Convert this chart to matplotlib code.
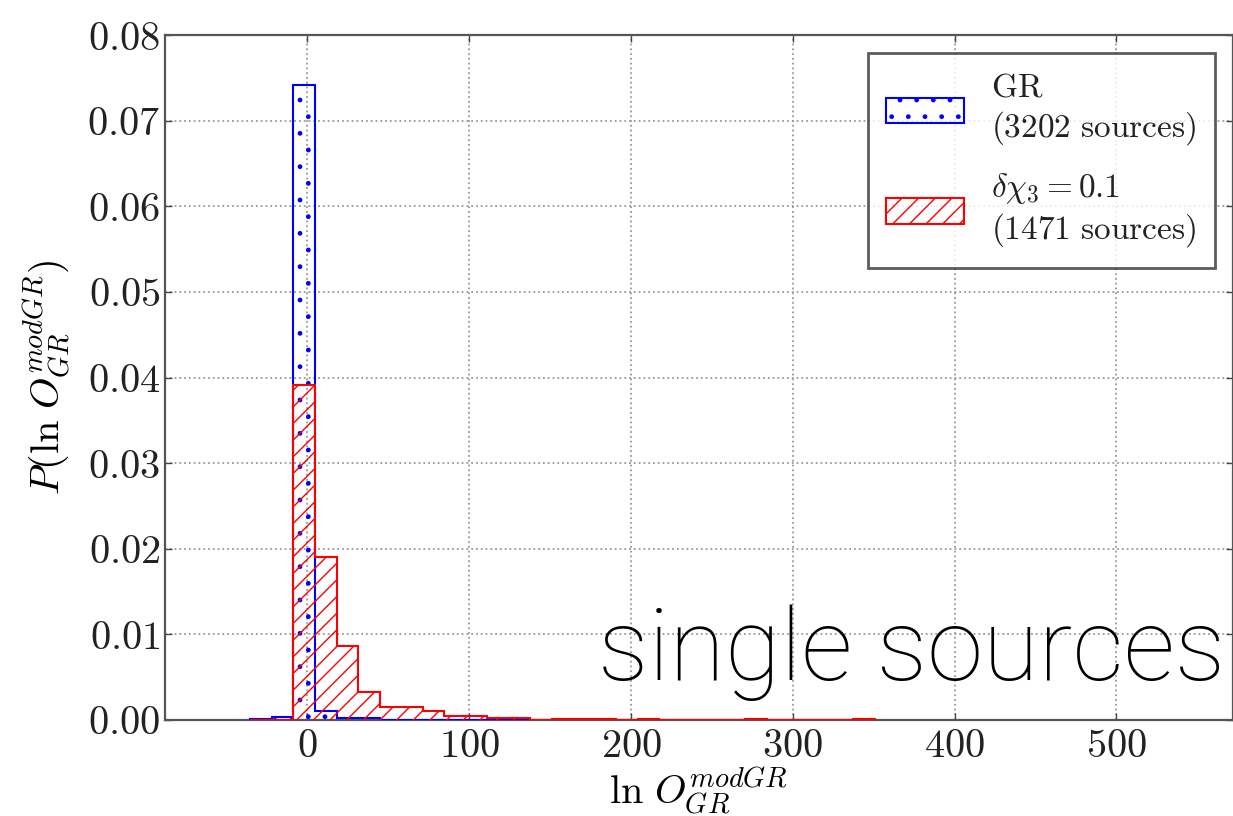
import numpy as np
import matplotlib
matplotlib.use('Agg')
import matplotlib.pyplot as plt
from matplotlib.ticker import FuncFormatter

plt.rcParams['mathtext.fontset'] = 'cm'
plt.rcParams['font.family'] = 'DejaVu Serif'
plt.rcParams['hatch.linewidth'] = 1.0

# bin edges of ln O (shared by both histograms)
bin_edges = [-35.2, -21.9, -8.6, 4.7, 18.0, 31.3, 44.6, 57.9, 71.2, 84.5,
             97.8, 111.1, 124.4, 137.7, 151.0, 164.3, 177.6, 190.9, 204.2,
             217.5, 230.8, 244.1, 257.4, 270.7, 284.0, 297.3, 310.6, 323.9,
             337.2, 350.5]

# normalised histogram heights, one per bin
gr_density = [0.0001, 0.0003, 0.0742, 0.0010, 0.0002, 0.0002, 0, 0, 0, 0,
              0, 0, 0, 0, 0, 0, 0, 0, 0, 0, 0, 0, 0, 0, 0, 0, 0, 0, 0]
mod_density = [0, 0, 0.0391, 0.0190, 0.0086, 0.0033, 0.0015, 0.0015, 0.0011,
               0.0005, 0.0005, 0.0002, 0.0002, 0, 0.0001, 0.0001, 0.0001, 0,
               0.0001, 0, 0, 0, 0, 0.0001, 0, 0, 0, 0, 0.0001]

gr_label = r'$\mathrm{GR}$' + '\n' + r'$(3202\ \mathrm{sources})$'
mod_label = r'$\delta\chi_3 = 0.1$' + '\n' + r'$(1471\ \mathrm{sources})$'

fig = plt.figure(figsize=(12.33, 8.16), dpi=100)
ax = fig.add_axes([165 / 1233, 96 / 816, 1 - 165 / 1233, (720 - 35) / 816])

ax.stairs(gr_density, bin_edges, fill=True, facecolor='none', edgecolor='blue',
          hatch='.', linewidth=1.5, label=gr_label, zorder=3)
ax.stairs(mod_density, bin_edges, fill=True, facecolor='none', edgecolor='red',
          hatch='//', linewidth=1.5, label=mod_label, zorder=3)

ax.set_xlim(-88, 572)
ax.set_ylim(0, 0.08)
ax.set_xticks([0, 100, 200, 300, 400, 500])
ax.set_yticks(np.arange(0, 0.081, 0.01))
ax.xaxis.set_major_formatter(FuncFormatter(lambda v, p: r'$%d$' % v))
ax.yaxis.set_major_formatter(FuncFormatter(lambda v, p: r'$%.2f$' % v))
ax.tick_params(direction='in', top=True, right=True, labelsize=29,
               length=5, width=1, color='#444444', labelcolor='#222222')
ax.tick_params(axis='x', pad=6)
ax.grid(True, linestyle=':', color='#999999', linewidth=1.3)
ax.set_axisbelow(True)
for s in ax.spines.values():
    s.set_linewidth(1.6)
    s.set_color('#555555')

ax.set_xlabel(r'$\ln\, O_{GR}^{modGR}$', fontsize=29, labelpad=0)
ax.set_ylabel(r'$P(\ln\, O_{GR}^{modGR})$', fontsize=29, labelpad=10)

leg = ax.legend(loc='upper right', fontsize=24, fancybox=False,
                handlelength=2.35, handleheight=0.8, borderpad=0.55,
                labelspacing=0.72, handletextpad=0.8, borderaxespad=0.55)
leg.get_frame().set_edgecolor('#333333')
leg.get_frame().set_linewidth(2)
for t in leg.get_texts():
    t.set_color('#222222')

fig.text(598 / 1233, (816 - 680) / 816, 'single sources', fontsize=73,
         family='Roboto', weight='light', va='baseline', ha='left')

fig.savefig('out.png', dpi=100)
